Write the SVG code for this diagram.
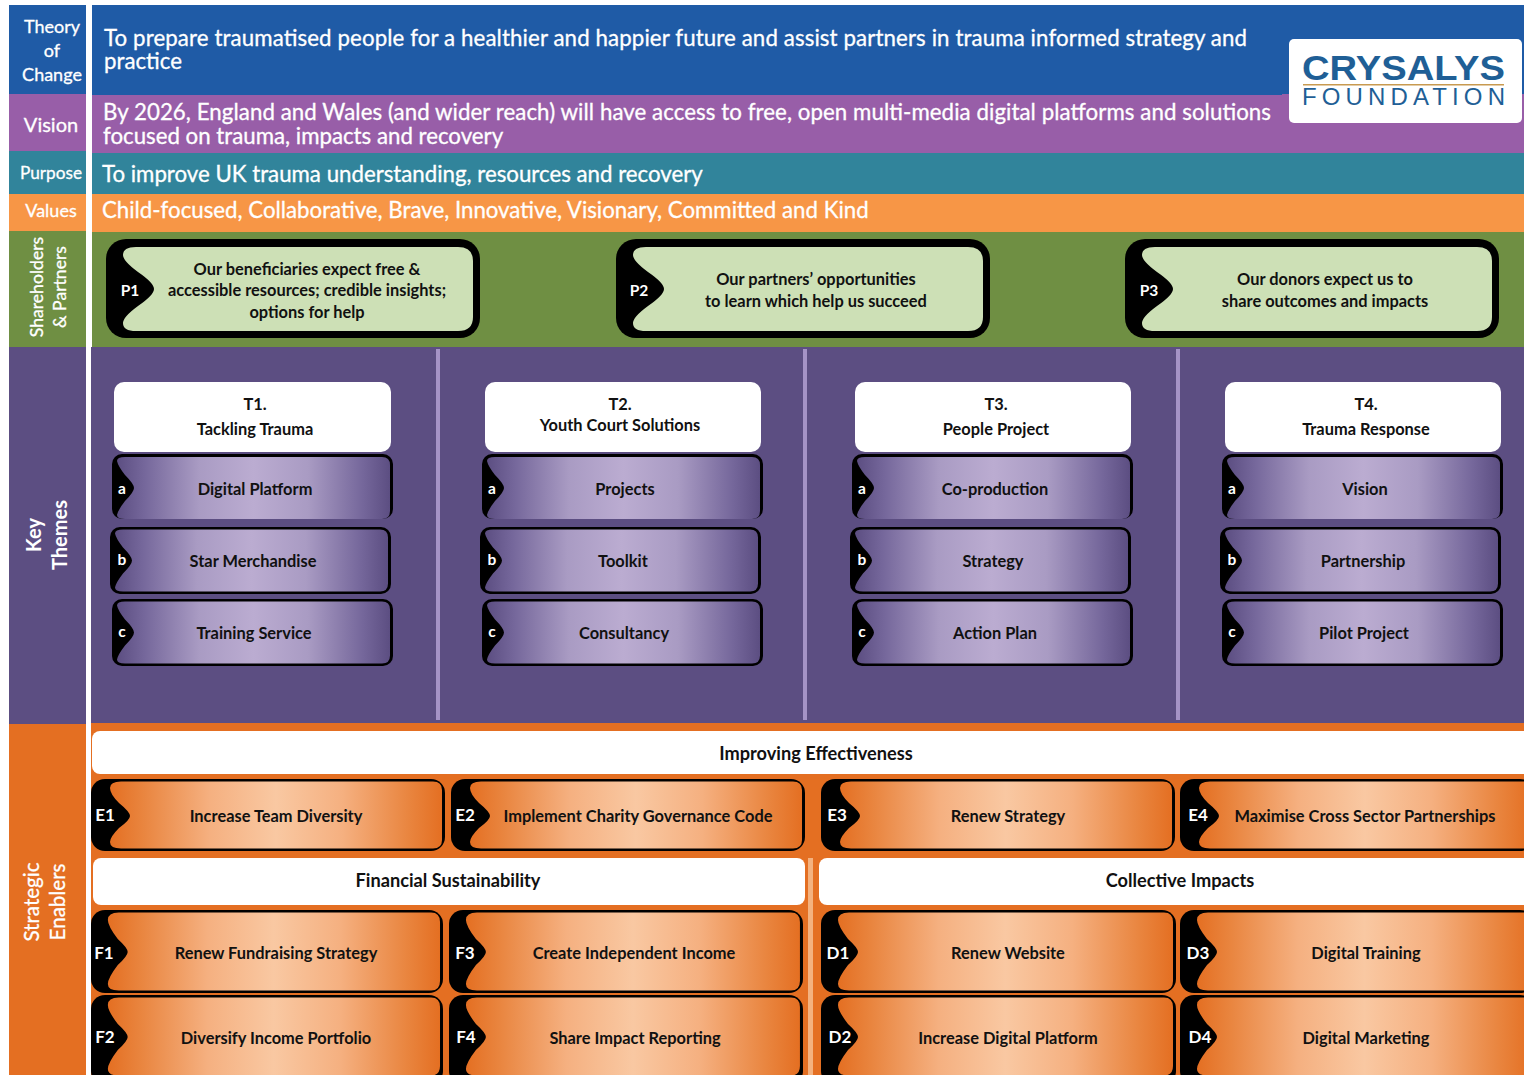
<svg xmlns="http://www.w3.org/2000/svg" width="1524" height="1075" viewBox="0 0 1524 1075">
<style>
text{font-family:Lato,"Open Sans","Liberation Sans",sans-serif}
.w{fill:#fff;stroke:#fff;stroke-width:.3px}
.big{font-size:22.25px}
.side{font-size:18px;text-anchor:middle}
.k{fill:#111;font-weight:700;font-size:16.4px;text-anchor:middle;transform:translateY(.7px)}
.h{fill:#111;font-weight:700;font-size:18.2px;text-anchor:middle;transform:translateY(.5px)}
.b{fill:#fff;font-weight:700;font-size:15.5px;text-anchor:middle}
.b2{font-size:17px}
.o{fill:#000}
</style>
<defs>
<linearGradient id="gp" x1="0" x2="1" y1="0" y2="0"><stop offset="0" stop-color="#5c4e82"/><stop offset=".1" stop-color="#75679b"/><stop offset=".3" stop-color="#a99bc3"/><stop offset=".5" stop-color="#bbacd1"/><stop offset=".7" stop-color="#a99bc3"/><stop offset=".9" stop-color="#75679b"/><stop offset="1" stop-color="#5c4e82"/></linearGradient>
<linearGradient id="go" x1="0" x2="1" y1="0" y2="0"><stop offset="0" stop-color="#e46f22"/><stop offset=".1" stop-color="#e9853f"/><stop offset=".3" stop-color="#f5b080"/><stop offset=".5" stop-color="#f9c8a2"/><stop offset=".7" stop-color="#f5b080"/><stop offset=".9" stop-color="#e9853f"/><stop offset="1" stop-color="#e46f22"/></linearGradient>
<path id="pi" fill="#cde0b6" d="M30 8H352Q367 8 367 22V78Q367 92 352 92H30Q17 92 17 84Q17 78 32 67Q48 56 48 50Q48 44 32 33Q17 22 17 16Q17 8 30 8Z"/>
<path id="ti" fill="url(#gp)" d="M13 2H270Q278 2 278 10V56Q278 64 270 64H13Q5 64 5 60Q6 55 13 46Q22 37 22 33Q22 29 13 20Q6 11 5 6Q5 2 13 2Z"/>
<path id="ei" fill="url(#go)" d="M30 2.500H342Q351 2.500 351 11V61Q351 69.500 342 69.500H30Q19 69.500 19 63Q19 58 28 49Q39 41 39 37Q39 33 28 24Q19 15 19 9Q19 2.500 30 2.500Z"/>
<path id="fi" fill="url(#go)" d="M28 2.500H343Q352 2.500 352 12V71Q352 80.500 343 80.500H28Q17 80.500 17 74Q17 68 27 55Q37 46 37 42Q37 38 27 29Q17 16 17 10Q17 2.500 28 2.500Z"/>
</defs>
<rect width="1524" height="1075" fill="#fff"/>
<g id="bands">
<rect x="9" y="5" width="77" height="89" fill="#1f5ba6"/><rect x="92" y="5" width="1432" height="90" fill="#1f5ba6"/>
<rect x="9" y="94" width="77" height="58" fill="#985ea8"/><rect x="92" y="95" width="1432" height="58" fill="#985ea8"/><rect x="1282" y="94" width="242" height="61" fill="#985ea8"/>
<rect x="9" y="151" width="77" height="43" fill="#31849b"/><rect x="92" y="153" width="1432" height="41" fill="#31849b"/><rect x="1282" y="155" width="242" height="39" fill="#31849b"/>
<rect x="9" y="194" width="77" height="37" fill="#f79646"/><rect x="92" y="194" width="1432" height="38" fill="#f79646"/>
<rect x="9" y="231" width="77" height="116" fill="#6f8f43"/><rect x="92" y="232" width="1432" height="115" fill="#6f8f43"/>
<rect x="9" y="347" width="77" height="377" fill="#5c4e82"/><rect x="91" y="347" width="1433" height="376" fill="#5c4e82"/>
<rect x="9" y="724" width="77" height="351" fill="#e46f22"/><rect x="91" y="723" width="1433" height="352" fill="#e46f22"/>
<rect x="436" y="349" width="4" height="371" fill="#a593c6"/><rect x="803" y="349" width="4" height="371" fill="#a593c6"/><rect x="1176" y="349" width="4" height="371" fill="#a593c6"/>
<rect x="808" y="858" width="5" height="217" fill="#f4b27f"/>
</g>
<g id="side-labels">
<text x="52" y="33" class="w side">Theory</text><text x="52" y="57" class="w side">of</text><text x="52" y="81" class="w side">Change</text>
<text x="51" y="132" class="w side" style="font-size:20px">Vision</text>
<text x="51" y="179" class="w side" style="font-size:17.2px">Purpose</text>
<text x="51" y="217" class="w side">Values</text>
<text transform="translate(43 287) rotate(-90)" class="w side" style="font-size:17.6px">Shareholders</text>
<text transform="translate(66 287) rotate(-90)" class="w side" style="font-size:17.6px">&amp; Partners</text>
<text transform="translate(41 535) rotate(-90)" class="w side" style="font-size:20px;font-weight:700;stroke-width:0">Key</text>
<text transform="translate(67 535) rotate(-90)" class="w side" style="font-size:20px;font-weight:700;stroke-width:0">Themes</text>
<text transform="translate(39 902) rotate(-90)" class="w side" style="font-size:20.600px">Strategic</text>
<text transform="translate(65 902) rotate(-90)" class="w side" style="font-size:20.600px">Enablers</text>
</g>
<g id="statements">
<text x="104" y="46" class="w big" textLength="1143">To prepare traumatised people for a healthier and happier future and assist partners in trauma informed strategy and</text>
<text x="104" y="69" class="w big">practice</text>
<text x="103" y="120" class="w big" textLength="1168">By 2026, England and Wales (and wider reach) will have access to free, open  multi-media digital platforms and solutions</text>
<text x="103" y="144" class="w big">focused on trauma, impacts and recovery</text>
<text x="102" y="182" class="w big">To improve UK trauma understanding, resources and recovery</text>
<text x="102" y="218" class="w big">Child-focused, Collaborative, Brave, Innovative, Visionary, Committed and Kind</text>
</g>
<g id="logo">
<rect x="1289" y="39" width="233" height="84" rx="5" fill="#fff"/>
<text x="1302" y="80" textLength="203" lengthAdjust="spacingAndGlyphs" style="font-family:'Liberation Sans',sans-serif;font-weight:700;font-size:35px" fill="#1f5f96">CRYSALYS</text>
<rect x="1303" y="84" width="201" height="1.500" fill="#c89a50"/>
<text x="1302" y="105" textLength="203" lengthAdjust="spacing" style="font-family:'Liberation Sans',sans-serif;font-size:24px" fill="#1f5f96">FOUNDATION</text>
</g>

<g id="P1" transform="translate(106 239)"><rect width="374" height="99" rx="20" class="o"/><use href="#pi"/><text x="24" y="57" class="b">P1</text><text x="201" y="35" class="k">Our beneficiaries expect free &amp;</text><text x="201" y="56" class="k">accessible resources; credible insights;</text><text x="201" y="78" class="k">options for help</text></g>
<g id="P2" transform="translate(616 239)"><rect width="374" height="99" rx="20" class="o"/><use href="#pi"/><text x="23" y="57" class="b">P2</text><text x="200" y="45" class="k">Our partners’ opportunities</text><text x="200" y="67" class="k">to learn which help us succeed</text></g>
<g id="P3" transform="translate(1125 239)"><rect width="374" height="99" rx="20" class="o"/><use href="#pi"/><text x="24" y="57" class="b">P3</text><text x="200" y="45" class="k">Our donors expect us to</text><text x="200" y="67" class="k">share outcomes and impacts</text></g>

<g id="T1"><rect x="114" y="382" width="277" height="70" rx="10" fill="#fff"/><text x="255" y="409" class="k">T1.</text><text x="255" y="434" class="k">Tackling Trauma</text></g>
<g id="T2"><rect x="485" y="382" width="276" height="70" rx="10" fill="#fff"/><text x="620" y="409" class="k">T2.</text><text x="620" y="430" class="k">Youth Court Solutions</text></g>
<g id="T3"><rect x="855" y="382" width="276" height="70" rx="10" fill="#fff"/><text x="996" y="409" class="k">T3.</text><text x="996" y="434" class="k">People Project</text></g>
<g id="T4"><rect x="1225" y="382" width="276" height="70" rx="10" fill="#fff"/><text x="1366" y="409" class="k">T4.</text><text x="1366" y="434" class="k">Trauma Response</text></g>

<g id="T1a" transform="translate(112 454)"><rect width="281" height="65" rx="10" class="o"/><use href="#ti" transform="translate(0 1)"/><text x="10" y="40" class="b">a</text><text x="143" y="40" class="k">Digital Platform</text></g>
<g id="T1b" transform="translate(110 527)"><rect width="281" height="67" rx="10" class="o"/><use href="#ti" transform="translate(0 .5)"/><text x="12" y="38" class="b">b</text><text x="143" y="39" class="k">Star Merchandise</text></g>
<g id="T1c" transform="translate(112 599)"><rect width="281" height="67" rx="10" class="o"/><use href="#ti" transform="translate(0 .5)"/><text x="10" y="38" class="b">c</text><text x="142" y="39" class="k">Training Service</text></g>
<g id="T2a" transform="translate(482 454)"><rect width="281" height="65" rx="10" class="o"/><use href="#ti" transform="translate(0 1)"/><text x="10" y="40" class="b">a</text><text x="143" y="40" class="k">Projects</text></g>
<g id="T2b" transform="translate(480 527)"><rect width="281" height="67" rx="10" class="o"/><use href="#ti" transform="translate(0 .5)"/><text x="12" y="38" class="b">b</text><text x="143" y="39" class="k">Toolkit</text></g>
<g id="T2c" transform="translate(482 599)"><rect width="281" height="67" rx="10" class="o"/><use href="#ti" transform="translate(0 .5)"/><text x="10" y="38" class="b">c</text><text x="142" y="39" class="k">Consultancy</text></g>
<g id="T3a" transform="translate(852 454)"><rect width="281" height="65" rx="10" class="o"/><use href="#ti" transform="translate(0 1)"/><text x="10" y="40" class="b">a</text><text x="143" y="40" class="k">Co-production</text></g>
<g id="T3b" transform="translate(850 527)"><rect width="281" height="67" rx="10" class="o"/><use href="#ti" transform="translate(0 .5)"/><text x="12" y="38" class="b">b</text><text x="143" y="39" class="k">Strategy</text></g>
<g id="T3c" transform="translate(852 599)"><rect width="281" height="67" rx="10" class="o"/><use href="#ti" transform="translate(0 .5)"/><text x="10" y="38" class="b">c</text><text x="143" y="39" class="k">Action Plan</text></g>
<g id="T4a" transform="translate(1222 454)"><rect width="281" height="65" rx="10" class="o"/><use href="#ti" transform="translate(0 1)"/><text x="10" y="40" class="b">a</text><text x="143" y="40" class="k">Vision</text></g>
<g id="T4b" transform="translate(1220 527)"><rect width="281" height="67" rx="10" class="o"/><use href="#ti" transform="translate(0 .5)"/><text x="12" y="38" class="b">b</text><text x="143" y="39" class="k">Partnership</text></g>
<g id="T4c" transform="translate(1222 599)"><rect width="281" height="67" rx="10" class="o"/><use href="#ti" transform="translate(0 .5)"/><text x="10" y="38" class="b">c</text><text x="142" y="39" class="k">Pilot Project</text></g>

<g id="H1"><rect x="92" y="731" width="1440" height="43" rx="8" fill="#fff"/><text x="816" y="759" class="h">Improving Effectiveness</text></g>
<g id="E1" transform="translate(91 779)"><rect width="354" height="72" rx="14" class="o"/><use href="#ei"/><text x="14" y="42" class="b b2">E1</text><text x="185" y="42" class="k">Increase Team Diversity</text></g>
<g id="E2" transform="translate(451 779)"><rect width="354" height="72" rx="14" class="o"/><use href="#ei"/><text x="14" y="42" class="b b2">E2</text><text x="187" y="42" class="k">Implement Charity Governance Code</text></g>
<g id="E3" transform="translate(821 779)"><rect width="354" height="72" rx="14" class="o"/><use href="#ei"/><text x="16" y="42" class="b b2">E3</text><text x="187" y="42" class="k">Renew Strategy</text></g>
<g id="E4" transform="translate(1180 779)"><rect width="354" height="72" rx="14" class="o"/><use href="#ei"/><text x="18" y="42" class="b b2">E4</text><text x="185" y="42" class="k">Maximise Cross Sector Partnerships</text></g>

<g id="H2"><rect x="93" y="858" width="712" height="47" rx="8" fill="#fff"/><text x="448" y="886" class="h">Financial Sustainability</text></g>
<g id="H3"><rect x="819" y="858" width="713" height="47" rx="8" fill="#fff"/><text x="1180" y="886" class="h">Collective Impacts</text></g>

<g id="F1" transform="translate(91 910)"><rect width="352" height="83" rx="14" class="o"/><use href="#fi" transform="scale(.9915 1)"/><text x="13" y="49" class="b b2">F1</text><text x="185" y="48" class="k">Renew Fundraising Strategy</text></g>
<g id="F3" transform="translate(449 910)"><rect width="354" height="83" rx="14" class="o"/><use href="#fi" transform="scale(.997 1)"/><text x="16" y="49" class="b b2">F3</text><text x="185" y="48" class="k">Create Independent Income</text></g>
<g id="D1" transform="translate(821 910)"><rect width="355" height="83" rx="14" class="o"/><use href="#fi"/><text x="17" y="49" class="b b2">D1</text><text x="187" y="48" class="k">Renew Website</text></g>
<g id="D3" transform="translate(1180 910)"><rect width="354" height="83" rx="14" class="o"/><use href="#fi"/><text x="18" y="49" class="b b2">D3</text><text x="186" y="48" class="k">Digital Training</text></g>
<g id="F2" transform="translate(91 995)"><rect width="352" height="90" rx="14" class="o"/><use href="#fi" transform="scale(.9915 1)"/><text x="14" y="48" class="b b2">F2</text><text x="185" y="48" class="k">Diversify Income Portfolio</text></g>
<g id="F4" transform="translate(449 995)"><rect width="354" height="90" rx="14" class="o"/><use href="#fi" transform="scale(.997 1)"/><text x="17" y="48" class="b b2">F4</text><text x="186" y="48" class="k">Share Impact Reporting</text></g>
<g id="D2" transform="translate(821 995)"><rect width="355" height="90" rx="14" class="o"/><use href="#fi"/><text x="19" y="48" class="b b2">D2</text><text x="187" y="48" class="k">Increase Digital Platform</text></g>
<g id="D4" transform="translate(1180 995)"><rect width="354" height="90" rx="14" class="o"/><use href="#fi"/><text x="20" y="48" class="b b2">D4</text><text x="186" y="48" class="k">Digital Marketing</text></g>
</svg>
